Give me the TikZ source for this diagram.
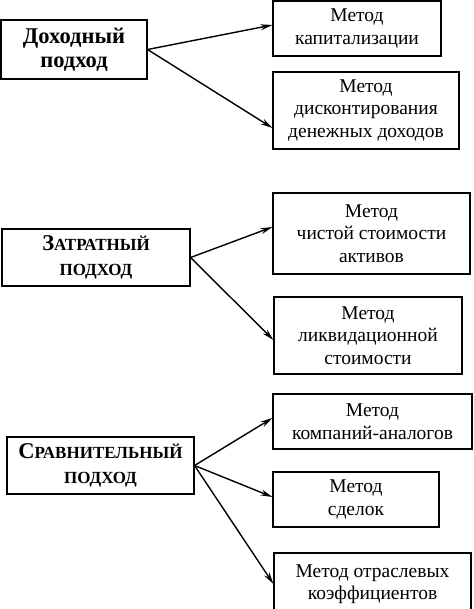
\documentclass[tikz,border=0pt]{standalone}
\usepackage{fontspec}
\setmainfont{Liberation Serif}
\usetikzlibrary{arrows.meta}
\newcommand{\fakesc}[2]{#1{\fontsize{17bp}{24bp}\selectfont #2}}
\begin{document}
\begin{tikzpicture}[x=1bp,y=-1bp,
  box/.style={draw=black,line width=1.1bp,inner sep=0pt,align=center,
    font=\fontsize{19.5bp}{22.5bp}\selectfont},
  head/.style={box,font=\fontsize{22.5bp}{24.5bp}\selectfont\bfseries},
  conn/.style={line width=1.4bp,-{Stealth[length=12bp,width=6bp]}}]
\useasboundingbox (0,0) rectangle (474,609);
\begin{scope}
\clip (0,0) rectangle (474,609);
\node[head,minimum width=146bp,minimum height=59bp] (d) at (74,49.5) {Доходный\\подход};
\node[box,minimum width=168bp,minimum height=55bp] (m1) at (357,28.5) {Метод\\капитализации};
\node[box,minimum width=186bp,minimum height=77bp] (m2) at (366,110.5) {Метод\\дисконтирования\\денежных доходов};
\node[head,minimum width=188bp,minimum height=57bp] (z) at (96,257.5) {\fakesc{З}{АТРАТНЫЙ}\\\fakesc{}{ПОДХОД}};
\node[box,minimum width=197bp,minimum height=81bp] (m3) at (371.5,233.5) {Метод\\чистой стоимости\\активов};
\node[box,minimum width=188bp,minimum height=77bp] (m4) at (368,335.5) {Метод\\ликвидационной\\стоимости};
\node[head,minimum width=187bp,minimum height=57bp] (s) at (100.5,465.5) {\fakesc{С}{РАВНИТЕЛЬНЫЙ}\\\fakesc{}{ПОДХОД}};
\node[box,minimum width=199bp,minimum height=55bp] (m5) at (372.5,421.5) {Метод\\компаний-аналогов};
\node[box,minimum width=166bp,minimum height=55bp] (m6) at (356,499.5) {Метод\\сделок};
\node[box,minimum width=197bp,minimum height=62bp] (m7) at (372.5,584) {Метод отраслевых\\коэффициентов};
\end{scope}
\draw[conn] (d.east) -- ([yshift=3.5bp]m1.west);
\draw[conn] (d.east) -- ([yshift=-17.5bp]m2.west);
\draw[conn] (z.east) -- ([yshift=6.5bp]m3.west);
\draw[conn] (z.east) -- ([yshift=-4.5bp]m4.west);
\draw[conn] (s.east) -- ([yshift=3.5bp]m5.west);
\draw[conn] (s.east) -- ([yshift=2.5bp]m6.west);
\draw[conn] (s.east) -- (m7.west);
\end{tikzpicture}
\end{document}
